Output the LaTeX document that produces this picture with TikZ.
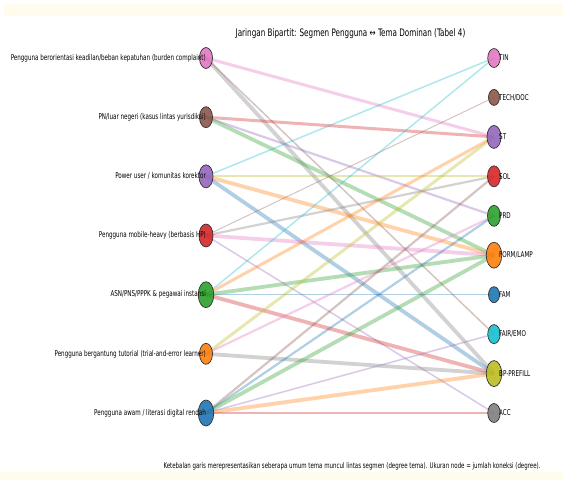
\documentclass[tikz,border=0pt]{standalone}
\usepackage{fontspec}
\setmainfont{DejaVu Sans}[FakeStretch=0.7]
\usetikzlibrary{shapes.geometric,backgrounds}
\definecolor{tblue}{HTML}{1F77B4}
\definecolor{torange}{HTML}{FF7F0E}
\definecolor{tgreen}{HTML}{2CA02C}
\definecolor{tred}{HTML}{D62728}
\definecolor{tpurple}{HTML}{9467BD}
\definecolor{tbrown}{HTML}{8C564B}
\definecolor{tpink}{HTML}{E377C2}
\definecolor{tgray}{HTML}{7F7F7F}
\definecolor{tolive}{HTML}{BCBD22}
\definecolor{tcyan}{HTML}{17BECF}
\definecolor{cream}{HTML}{FFFCEE}
\definecolor{outl}{HTML}{333333}
\tikzset{
  vtx/.style={ellipse,draw=outl,line width=0.7pt,inner sep=0pt,fill opacity=0.9},
  deg1/.style={minimum width=11pt,minimum height=16pt},
  deg2/.style={minimum width=12.5pt,minimum height=19pt},
  deg3/.style={minimum width=13pt,minimum height=21pt},
  deg4/.style={minimum width=14pt,minimum height=23pt},
  deg5/.style={minimum width=15.5pt,minimum height=26pt},
  deg6/.style={minimum width=15.5pt,minimum height=26pt},
  ed/.style={draw opacity=0.35,line cap=butt},
  w1/.style={line width=1.0pt},
  w2/.style={line width=1.5pt},
  w3/.style={line width=2.2pt},
  w4/.style={line width=3.0pt},
  w5/.style={line width=3.8pt},
  lbl/.style={inner sep=0pt,font=\fontsize{8}{9}\selectfont,text=black},
}
\begin{document}
\begin{tikzpicture}[x=1pt,y=-1pt]
\useasboundingbox (0,0) rectangle (563,480);
% left nodes (segments)
\node[vtx,deg3,fill=tpink]   (L1) at (206,58) {};
\node[vtx,deg3,fill=tbrown]  (L2) at (206,117.2) {};
\node[vtx,deg4,fill=tpurple] (L3) at (206,176.3) {};
\node[vtx,deg4,fill=tred]    (L4) at (206,235.5) {};
\node[vtx,deg5,fill=tgreen]  (L5) at (206,294.7) {};
\node[vtx,deg3,fill=torange] (L6) at (206,353.8) {};
\node[vtx,deg6,fill=tblue]   (L7) at (206,413) {};
% right nodes (themes)
\node[vtx,deg2,fill=tpink]   (R1) at (494,58) {};
\node[vtx,deg1,fill=tbrown]  (R2) at (494,97.4) {};
\node[vtx,deg4,fill=tpurple] (R3) at (494,136.9) {};
\node[vtx,deg3,fill=tred]    (R4) at (494,176.3) {};
\node[vtx,deg3,fill=tgreen]  (R5) at (494,215.8) {};
\node[vtx,deg5,fill=torange] (R6) at (494,255.2) {};
\node[vtx,deg1,fill=tblue]   (R7) at (494,294.7) {};
\node[vtx,deg2,fill=tcyan]   (R8) at (494,334.1) {};
\node[vtx,deg5,fill=tolive]  (R9) at (494,373.6) {};
\node[vtx,deg2,fill=tgray]   (R10) at (494,413) {};
\begin{scope}[on background layer]
\fill[white] (0,0) rectangle (563,480);
\fill[cream] (4,4) rectangle (563,16);
\fill[cream] (0,472) rectangle (563,480);
% edges
\draw[ed,w4,tpink]   (L1.center) -- (R3.center);
\draw[ed,w2,tbrown]  (L1.center) -- (R8.center);
\draw[ed,w5,tgray]   (L1.center) -- (R9.center);
\draw[ed,w4,tred]    (L2.center) -- (R3.center);
\draw[ed,w3,tpurple] (L2.center) -- (R5.center);
\draw[ed,w5,tgreen]  (L2.center) -- (R6.center);
\draw[ed,w2,tcyan]   (L3.center) -- (R1.center);
\draw[ed,w3,tolive]  (L3.center) -- (R4.center);
\draw[ed,w5,torange] (L3.center) -- (R6.center);
\draw[ed,w5,tblue]   (L3.center) -- (R9.center);
\draw[ed,w1,tbrown]  (L4.center) -- (R2.center);
\draw[ed,w3,tgray]   (L4.center) -- (R4.center);
\draw[ed,w5,tpink]   (L4.center) -- (R6.center);
\draw[ed,w2,tpurple] (L4.center) -- (R10.center);
\draw[ed,w2,tcyan]   (L5.center) -- (R1.center);
\draw[ed,w4,torange] (L5.center) -- (R3.center);
\draw[ed,w5,tgreen]  (L5.center) -- (R6.center);
\draw[ed,w1,tblue]   (L5.center) -- (R7.center);
\draw[ed,w5,tred]    (L5.center) -- (R9.center);
\draw[ed,w4,tolive]  (L6.center) -- (R3.center);
\draw[ed,w3,tpink]   (L6.center) -- (R5.center);
\draw[ed,w5,tgray]   (L6.center) -- (R9.center);
\draw[ed,w3,tbrown]  (L7.center) -- (R4.center);
\draw[ed,w3,tblue]   (L7.center) -- (R5.center);
\draw[ed,w5,tgreen]  (L7.center) -- (R6.center);
\draw[ed,w2,tpurple] (L7.center) -- (R8.center);
\draw[ed,w5,torange] (L7.center) -- (R9.center);
\draw[ed,w2,tred]    (L7.center) -- (R10.center);
\end{scope}
% labels
\node[lbl,anchor=east] (t1) at (206,58) {Pengguna berorientasi keadilan/beban kepatuhan (burden complaint)};
\node[lbl,anchor=east] (t2) at (206,117.2) {PN/luar negeri (kasus lintas yurisdiksi)};
\node[lbl,anchor=east] (t3) at (206,176.3) {Power user / komunitas korektor};
\node[lbl,anchor=east] (t4) at (206,235.5) {Pengguna mobile-heavy (berbasis HP)};
\node[lbl,anchor=east] (t5) at (206,294.7) {ASN/PNS/PPPK \& pegawai instansi};
\node[lbl,anchor=east] (t6) at (206,353.8) {Pengguna bergantung tutorial (trial-and-error learner)};
\node[lbl,anchor=east] (t7) at (206,413) {Pengguna awam / literasi digital rendah};
\node[lbl,anchor=west] (u1) at (499,58) {TIN};
\node[lbl,anchor=west] (u2) at (499,97.4) {TECH/DOC};
\node[lbl,anchor=west] (u3) at (499,136.9) {ST};
\node[lbl,anchor=west] (u4) at (499,176.3) {SOL};
\node[lbl,anchor=west] (u5) at (499,215.8) {PRD};
\node[lbl,anchor=west] (u6) at (499,255.2) {FORM/LAMP};
\node[lbl,anchor=west] (u7) at (499,294.7) {FAM};
\node[lbl,anchor=west] (u8) at (499,334.1) {FAIR/EMO};
\node[lbl,anchor=west] (u9) at (499,373.6) {BP-PREFILL};
\node[lbl,anchor=west] (u10) at (499,413) {ACC};
\node[inner sep=0pt,font=\fontsize{10.3}{12}\selectfont] (title) at (350.5,34) {Jaringan Bipartit: Segmen Pengguna ↔ Tema Dominan (Tabel 4)};
\node[inner sep=0pt,font=\fontsize{7.8}{9}\selectfont] (foot) at (352,466) {Ketebalan garis merepresentasikan seberapa umum tema muncul lintas segmen (degree tema). Ukuran node = jumlah koneksi (degree).};
\end{tikzpicture}
\end{document}
